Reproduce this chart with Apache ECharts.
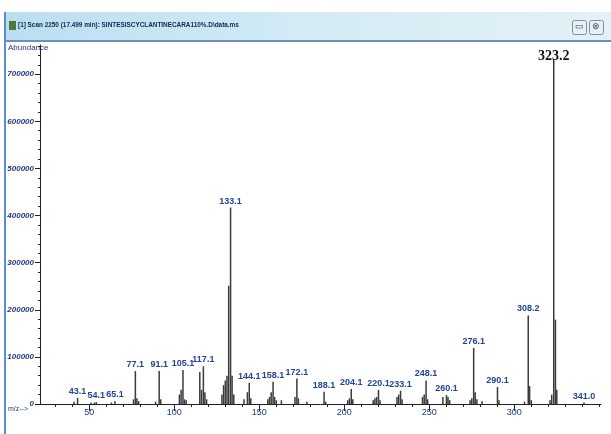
<!DOCTYPE html>
<html>
<head>
<meta charset="utf-8">
<script src="https://cdn.jsdelivr.net/npm/echarts@6/dist/echarts.min.js"></script>
<style>
html,body{margin:0;padding:0;background:#fff;}
#chart{width:611px;height:434px;}
</style>
</head>
<body>
<div id="chart"></div>
<script>
// Labelled peaks (m/z, abundance)
var labeledMz = [43.1, 54.1, 65.1, 77.1, 91.1, 105.1, 117.1, 133.1, 144.1, 158.1, 172.1, 188.1, 204.1, 220.1, 233.1, 248.1, 260.1, 276.1, 290.1, 308.2, 323.2, 341.0];
var labeledAbund = [13000, 4000, 6000, 70000, 70000, 72000, 80000, 417000, 45000, 47000, 54000, 26000, 32000, 30000, 28000, 50000, 19000, 119000, 36000, 188000, 732000, 3000];
var labeledText = ["43.1", "54.1", "65.1", "77.1", "91.1", "105.1", "117.1", "133.1", "144.1", "158.1", "172.1", "188.1", "204.1", "220.1", "233.1", "248.1", "260.1", "276.1", "290.1", "308.2", "323.2", "341.0"];

// Unlabelled minor peaks
var minorMz = [41, 51, 53, 63, 76, 78, 79, 89, 92, 103, 104, 106, 107, 115, 116, 118, 119, 128, 129, 130, 131, 132, 134, 135, 141, 143, 145, 155, 156, 157, 159, 160, 163, 171, 173, 178, 189, 202, 203, 205, 217, 218, 219, 221, 231, 232, 234, 246, 247, 249, 258, 261, 262, 274, 275, 277, 278, 281, 291, 306, 309, 310, 321, 322, 324.2, 325];
var minorAbund = [5000, 3000, 3000, 3000, 10000, 12000, 6000, 5000, 10000, 20000, 30000, 10000, 8000, 68000, 30000, 25000, 10000, 20000, 40000, 50000, 60000, 251000, 60000, 20000, 10000, 25000, 12000, 10000, 15000, 25000, 15000, 8000, 8000, 15000, 12000, 5000, 5000, 8000, 12000, 10000, 8000, 12000, 15000, 8000, 15000, 20000, 10000, 15000, 20000, 10000, 15000, 15000, 8000, 8000, 12000, 25000, 10000, 6000, 8000, 5000, 38000, 8000, 8000, 20000, 179000, 30000];

// Axis ticks
var xLabelTicks = [50, 100, 150, 200, 250, 300];
var xMinorTicks = [30, 40, 50, 60, 70, 80, 90, 100, 110, 120, 130, 140, 150, 160, 170, 180, 190, 200, 210, 220, 230, 240, 250, 260, 270, 280, 290, 300, 310, 320, 330, 340, 350];
var yTicks = [0, 100000, 200000, 300000, 400000, 500000, 600000, 700000];
var yMinorTicks = [0, 20000, 40000, 60000, 80000, 100000, 120000, 140000, 160000, 180000, 200000, 220000, 240000, 260000, 280000, 300000, 320000, 340000, 360000, 380000, 400000, 420000, 440000, 460000, 480000, 500000, 520000, 540000, 560000, 580000, 600000, 620000, 640000, 660000, 680000, 700000, 720000, 740000, 760000];

var titleText = "[1] Scan 2250 (17.499 min): SINTESISCYCLANTINECARA110%.D\\data.ms";

var peakColor = '#3a3a3a';
var labelColor = '#24449a';
var narrow = 'Liberation Sans Narrow, Liberation Sans, sans-serif';

var data = [];
for (var i = 0; i < minorMz.length; i++) {
  data.push({ value: [minorMz[i], minorAbund[i]] });
}
for (var j = 0; j < labeledMz.length; j++) {
  var big = labeledText[j] === '323.2';
  data.push({
    value: [labeledMz[j], labeledAbund[j]],
    label: big ? {
      show: true, position: 'top', distance: -4, formatter: labeledText[j],
      color: '#111', fontFamily: 'Liberation Serif', fontWeight: 'bold', fontSize: 14
    } : {
      show: true, position: 'top', distance: 2, formatter: labeledText[j],
      color: labelColor, fontFamily: narrow, fontSize: 9, fontWeight: 'bold'
    }
  });
}

var xMin = 21, xMax = 351, yMax = 762000;

var chart = echarts.init(document.getElementById('chart'), null, { renderer: 'canvas' });
chart.setOption({
  animation: false,
  backgroundColor: '#ffffff',
  grid: { left: 40, right: 10, top: 45, bottom: 30 },
  xAxis: [{
    type: 'value', min: xMin, max: xMax,
    axisLine: { show: true, lineStyle: { color: '#222', width: 1 } },
    axisTick: { show: true, customValues: xMinorTicks, length: 3, lineStyle: { color: '#222' } },
    axisLabel: { show: false },
    splitLine: { show: false }
  }, {
    type: 'value', min: xMin, max: xMax, position: 'bottom',
    axisLine: { show: false },
    axisTick: { show: true, customValues: xLabelTicks, length: 7, lineStyle: { color: '#222' } },
    axisLabel: { show: true, customValues: xLabelTicks, color: '#1f3a80', fontSize: 9, margin: 4, fontFamily: narrow },
    splitLine: { show: false }
  }],
  yAxis: [{
    type: 'value', min: 0, max: yMax,
    axisLine: { show: true, lineStyle: { color: '#222', width: 1 } },
    axisTick: { show: true, customValues: yMinorTicks, length: 2, lineStyle: { color: '#222' } },
    axisLabel: { show: false },
    splitLine: { show: false }
  }, {
    type: 'value', min: 0, max: yMax, position: 'left',
    axisLine: { show: false },
    axisTick: { show: true, customValues: yTicks, length: 5, lineStyle: { color: '#222' } },
    axisLabel: { show: true, customValues: yTicks, color: '#1f3a80', fontSize: 8, margin: 6,
      fontFamily: narrow, fontStyle: 'italic', fontWeight: 'bold',
      formatter: function (v) { return String(v); } },
    splitLine: { show: false }
  }],
  series: [{
    type: 'bar',
    xAxisIndex: 0,
    yAxisIndex: 0,
    barWidth: 1.5,
    itemStyle: { color: peakColor },
    data: data
  }],
  graphic: [
    { type: 'rect', left: 5, top: 12, shape: { width: 606, height: 28 },
      style: { fill: new echarts.graphic.LinearGradient(0, 0, 1, 0, [
        { offset: 0, color: '#b9dff0' }, { offset: 0.5, color: '#d3ebf5' }, { offset: 1, color: '#e4f1f6' }]) } },
    { type: 'rect', left: 5, top: 40, shape: { width: 606, height: 2 }, style: { fill: '#6f8fb8' } },
    { type: 'rect', left: 4, top: 12, shape: { width: 2, height: 422 }, style: { fill: '#5b8ed0' } },
    { type: 'rect', left: 9, top: 21, shape: { width: 7, height: 9 }, style: { fill: '#4d7a3a' } },
    { type: 'text', x: 18, y: 21, scaleX: 0.8, style: { text: titleText, fill: '#13254f', fontSize: 8, fontWeight: 'bold', fontFamily: narrow } },
    { type: 'rect', left: 572, top: 20, shape: { width: 14, height: 14, r: 2 }, style: { fill: '#e8f0f6', stroke: '#7d8fa8', lineWidth: 1 } },
    { type: 'rect', left: 589, top: 20, shape: { width: 14, height: 14, r: 2 }, style: { fill: '#e8f0f6', stroke: '#7d8fa8', lineWidth: 1 } },
    { type: 'text', left: 575, top: 22, style: { text: '▭', fill: '#444', fontSize: 9 } },
    { type: 'text', left: 592, top: 22, style: { text: '⊗', fill: '#444', fontSize: 9 } },
    { type: 'text', left: 8, top: 44, style: { text: 'Abundance', fill: '#1f3a80', fontSize: 8, fontFamily: narrow } },
    { type: 'text', left: 8, top: 406, style: { text: 'm/z-->', fill: '#1f3a80', fontSize: 7, fontFamily: narrow } }
  ]
});
</script>
</body>
</html>
